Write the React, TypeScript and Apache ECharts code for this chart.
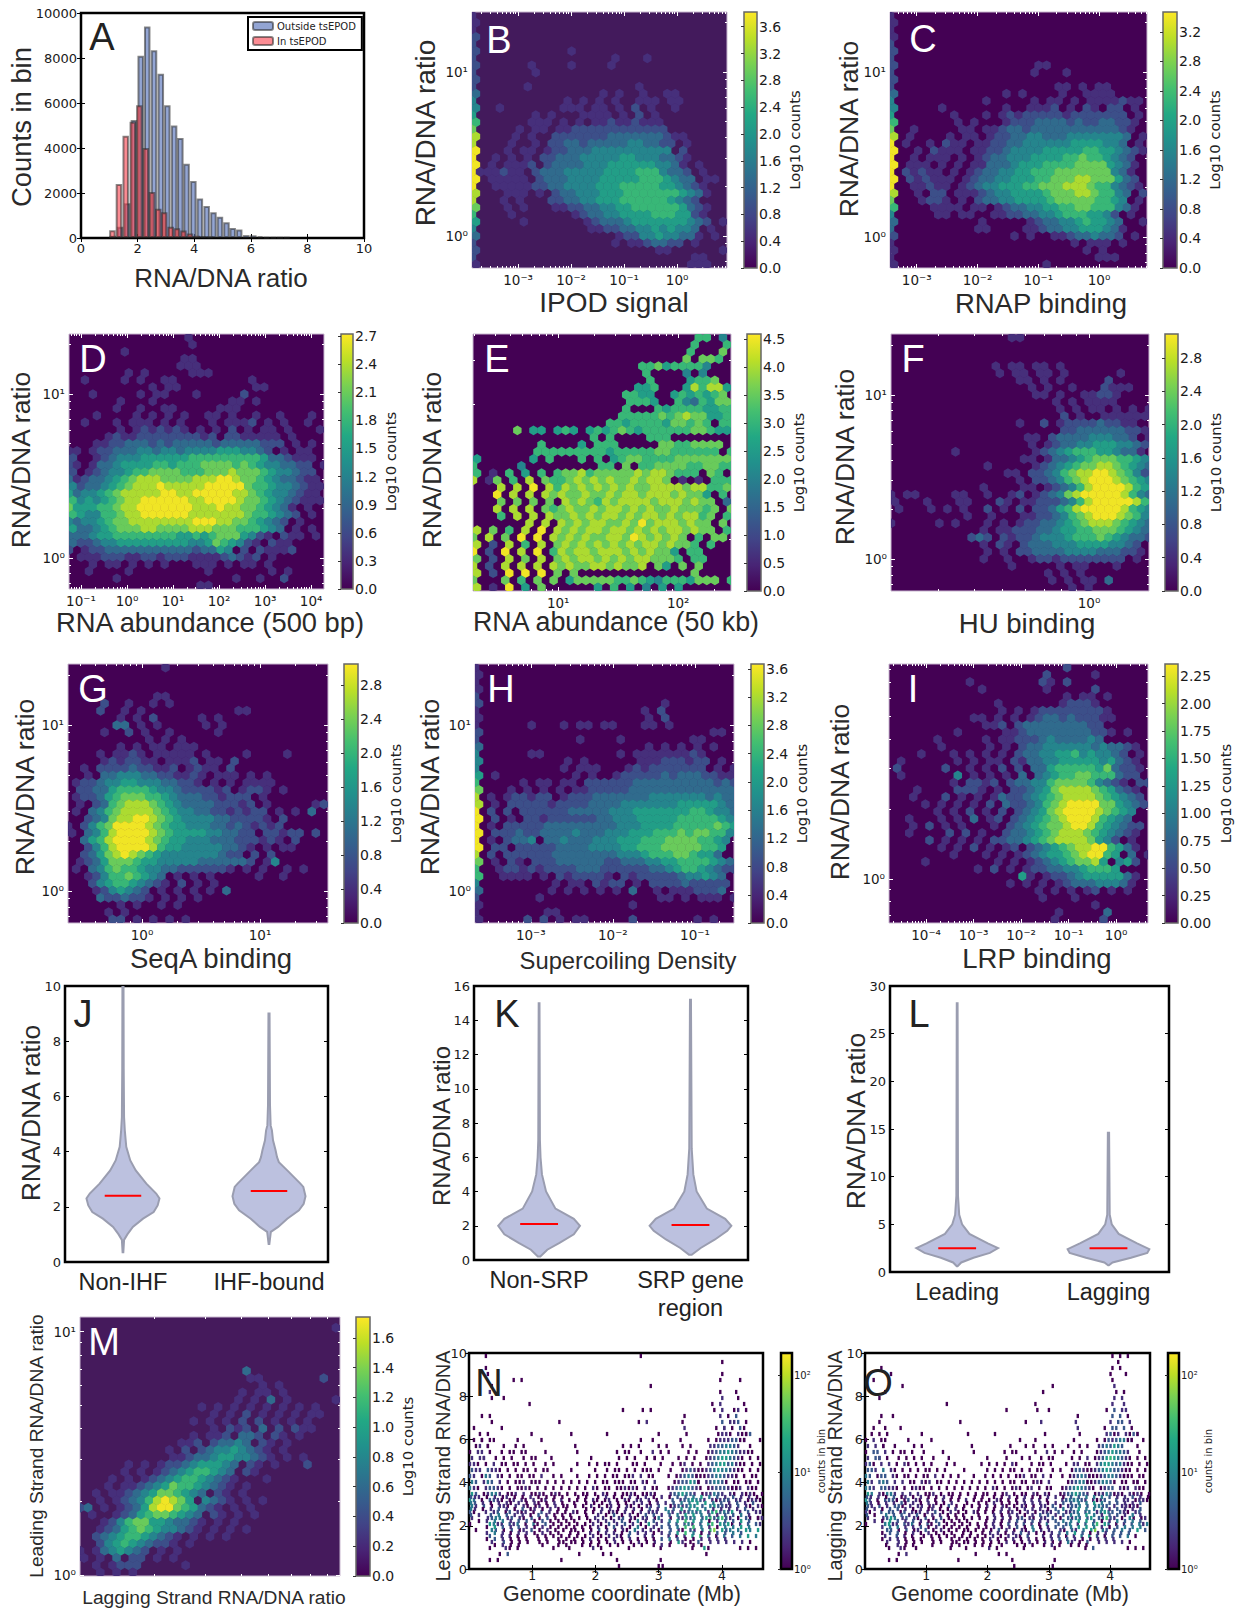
import React, { useEffect, useRef } from "react";
import * as echarts from "echarts";

const DV = "DejaVu Sans";
const LS = "Liberation Sans";

// ---------- A: histogram (bin centre, counts in bin) ----------
const outsideBins = [1.12, 1.38, 1.63, 1.87, 2.11, 2.34, 2.58, 2.82, 3.05, 3.29, 3.51, 3.73, 3.97, 4.2, 4.44, 4.68, 4.91, 5.14, 5.36, 5.59, 5.84, 6.09, 6.33, 6.56, 6.8, 7.03, 7.27];
const outsideCounts = [100, 500, 1550, 5240, 8100, 9400, 8350, 7300, 5900, 5000, 4450, 3300, 2530, 1760, 1420, 1150, 950, 700, 450, 380, 130, 120, 70, 30, 25, 20, 15];
const insideBins = [1.11, 1.34, 1.58, 1.83, 2.06, 2.29, 2.51, 2.73, 2.94, 3.17, 3.39, 3.62, 3.85, 4.09, 4.32, 4.56];
const insideCounts = [350, 2400, 4550, 5170, 5900, 4000, 2050, 1300, 1150, 500, 430, 330, 200, 100, 80, 60];

// ---------- Hexbin panels: each digit is a colour level (1 low .. 9 high) ----------
const rowsB = ["1","1","1","2","2","2...........1","2.................1...1","2......1....1....1","2.......1","2","2......1.............1","3...............1.1..1..11","4...........1.1.1.1..111.11","4..1.......111.11.1.2.1..1","5.......1.1...1111.1.2.1","6......111.1.1.112112111","7.....1.11.11222222222222","8....1.1..22222223333333211","8....1..1.2233233333443322.1","9...1.11.1223334444444444.2","9..1.1.1.2233344444554443321","9.1.1112.233334445555554431.1","9111211.23334444455556664332.1","9.11111.23334444555556665433.11","9..111112233444455566666554321","8...111.1.23344455566666665431","8...1.1...2233445556666665432","7...1.1...11223344556666665321","6....1.......12334455556665521","5.....1.......1233345555555432.1","4..............11223344545443.1","3.................12244544331.1","2.................1.1123322.1","2......................11......1","2...........................11","1..........................111"];
const rowsC = ["1","1","1","1","2","2","2","2.................11","2.................1...1","2","2....................11.1.11","3.............1.1....1..1111","4...........1.....1.11.1.1111211","4.....1.......1..1112.1.21.22.1","5.......1...1.1212222212222222.1","6.......1.1...12223333232233221","7..1.....11.1123323333333333321","8.1....1.11.122334433344444443.1","9.1..1.211.1122334444445555443.1","9..1.2111.1122344445555566554321","9..1.111.1.12334445555667665432","9.111.1.1.113334555666677775431","9.21211.1.123344556667777777431","9.212111.1233445556677788777532","9..11211.12344555667778887664321","8..1.22.1112344555567778876643.2","7...1221.1.2334455556777776654.1","6....1111.11.123344556677666431","4.....11.11..1122334456665542.1","3..........1.....123344565543..1","3..........11....1123344555431","2..............1.1..112334332.1","1......................1.111.1","1.......................1.1.....1","1.........................111...1","1..................1"];
const rowsD = ["...............1","...............1",".......1","..............11","..............111",".......1.1.....111","..1....1.1..11.........1","..........1.11.........11","...1.....1.11...1.....2","......1...1.........11.1","......1..1..11.....111","...1....1.1.1.1..11.1..1..1...1","..1...1.111.1.1...1.1112.1.1..1","......1.1212121.1.1.2.1.11.1...1",".....12112222222212.2211111.1....","...112233323233333233333222.1.1","11.12233344344344445554432.1.11","2..1234445555556666666665332111","21.1334555566566677776765443322.1","2.12344566777766677787776544322.1","31233456788877778889987765433211","42334567888988888999997665443211","53445678888899889999988765443211","64545678899999988999987765432111","75556678899999998889887765431.1.","65446678899999988888887665432.1.","4344567788888888999887765432.1..","533456777887777888777666543.1.1","33345566666666556567775421.211.1","322344555555555445765421.211","2.1223333333333323354.2.21112",".11122211221222111123212.1","...1.11.1.1.1...111.1.11.1","..1....1.........1.......1.1","......1..............1..1..2","................11"];
const rowsE = ["............................66.4","...........................6...6","...........................6...7","..........................7.776",".....................667566664",".....................6....4.4","......................6....5667","....................556...586885","...................6655..5656567","...................6665..64365774","...................6...6566665566","..................6666676787755666",".................6656666577676.66",".....7.55.565.5656765666666776557","...............6.6....666........7.6","........6....5.666.....77667777.6.64","........66666666656666677666666.664","5......5.6...6.6.5677666677777776.5","6.....4.........66.7.667777667766","6.1.6.5.6.677867777787887666.76","8.17.6.8.7667878787787887.1.1.666","...8.8.9.8687878787877888878866777","...9.8.8.878778778788788878775.6","...7.7.7.7.8787687888878887877.31.6","...8.8.8.7678778788787877877767.7","...6.8.8.877878788787887878867.6",".......8.8.8787887787978887877.7","8.7.6.8.9.87878878878787887877.66","7.8.7.9.9.87878778879878787.6.77","8.2.8.6.8.787878787878878776.6","9.2.9.8.9.6878878887878775.66","7.2.8.7.8.7878878787887776.66","8.2.8.8.8.878778878778.75.7.7","8.2.9.9.9.7.7..............7....7.67","7...7.6.7.7.5777776676546665777.6","8.1.9.5.7......5.6.5.4.5.5"];
const rowsF = ["...............11","","","",".............1.11.11.1",".............1.11.11.1......1","................11.1.1.....2",".................1.1..1...2111","..................11.1..11221","....................1.1.1111",".....................1.1.11.1.1.1",".....................2.1..111111","................1..2.1222232211",".....................223333332211",".................11.23333444332.1",".................1.1233445554432.1","........1.........12345666554331.1","................11.133456777665431","............1.....12345677887654322","..............11.223467889987642.1","................1.2234678999876543","...........1....11.12346899998654","1.11....11..1..12.1234789999986432","1...1...11...21.11222346899999864",".1...1.1.1..2.1.2.223568999998654",".........1..1...112234678999876434","1.....1.1...1.1.12233456788876543","...........1.112223345566777654323","..........232.2122344456667654332","...........1.21.233344455554432.2","............1.1.2233334444333221","...........1..1..122122222222.1","...............1.....1.11...1","...................1.1.1","....................1.1.11.3","......................1.1"];
const rowsG = ["............1","","","","...........11","....2..1..1.1","....2..1.1...........11","......1.1.2.....1.1","......33.1.1.....1.1","....1..2.1..1.....1","..........1.1.1","......1.1.11.111","....1.1121.11111.1....1....1","....1212211.1112.11.2","..1.2222322112.1211.2","..1.3344433221121.111.1.1",".1223445544433221.1.1.1111",".2233566665443222212.1221.1......1",".1223567776654333221222.1",".1.23678887654333322212.1.....121.1",".1.3467888876544332212122.1.1.3","..23478899876544443322221.2","1.2467999987655444332321212","1.346899998765555443322.22122.2","..3568999987655444333222121.2","..246899998655444443321.1.11","..23578987654444444322.2.2",".1235777655444443333332.14",".1.346766544332222221.1.1..1.1","..1246676543.1.1.1.....1..1","...2456654321.2.1.1","...1245432.1.1.1.1.3","....3223221.1.1.1","......1.1..1.1",".....1.1",".....22.1.1.1.1"];
const rowsH = ["1","1","1","1","2","2......................1","1....................1.2","1....................1.2","1......1...1.11.11...11.1","2............................11","2............1....1........11","3....................1.1.1.1.1","4......11.........1.111111121","4..........1.1......111222122.1","4..........1.111...1212222222.1.1","5.1.........1.1..122222323332211.1","6.....1.11.11.2222223333333333232","7...1.1.1.1.112222233333333333332","8.1.122122.1222333333344444443433","8.1.22222122223333444444455555432","9.2.2.222222333334445555555665443","9.2.1.22122222233444555556666654","9.1.222223333333334445555666667653","9.2223223333433344455566676776643","9.1.2334.33433344455566677776654","9.22.22222333344445566677777665","8.2.222222333333334445666776553","7.1.21.2223333332233344556666543","6..122121222233322222233456654322","6..1111.1.2122221.2122222344543.2","4.........1.11.2122.1.2222322222.1","3........1.1.1.1.1.3..1.1112223.3","2.......1..............11.1.111.11","1..................1","1........11","1.....2.2.1.11.....2.......1.1"];
const rowsI = ["......................2","...................2.....1","..........1........21.2","...........1.......1.....2","......................1.11.1",".............1.......12221","..............1.1.1222222221","..........11.1.1.12332322211","............112.23333333322","........1.....11233333333221.1","......1.....1.1122234333343","......1.....1.1.233444444343321","....1...1.1.1.1.23344556454432.1",".1......1.1.11.2133445555545321.1",".2.....2..1.1.2.2.33566666573221",".1......4.1.1.1.3.3456677666322","........1.2212.233446777764321.22","...1....2221.1.2234578888765321.2","...1...2.1.1.1322345678888765432","....1.1.1.1.2.3223467899997754321","......1.1.2.1.2.234578999987654","..1...1.1.3.12.234567899986543","...1.2.1.1...1.23456778998654322","..1....2.2.1..23345678887654321",".....2.1.1.1.2233456788887542.1","......1.1.2.1.12.23456788996531.1","........1...1.1.1234556789965.3.1","....1........1.1.1234567785.452","...........1.2.1.122334456665","................51.122345555531","...............1.1.1.1233344431","..................1.1.1.12.1.1","...................1...1",".........................1",".....................1.....3","....................1.....2"];
const rowsM = ["","...............................1","","","","","","....................3",".....................11.......2","......................1.1","....................1.11.1","...................1.1.3.1.....1","...............1.1.1.1.1.1.1.1","................1.1.2.1.1.1.11","..............1.1.1.2.2.1.1.1","................1.212.3.2.211","..............1.112.332.21.1","............112.23343.21.1","...........1.2.234454321.1","...........1123345544321.1.1","......1.1.1223455543.21.1...2",".....1.1.1234566543.21","....1.1.123456654321...1","...1.11234576654321.1","..1.112345776543.21.1","..1.1234689875.4321.1.1","23.1.1235899765321.1.1",".1..12356776543.21.1.1","...1246775543321.1.1","..1235676544321.1.1.1","..23456654321.1.1.1","..2456543221.1","1.1345432.1.1","1.1.3.22.1.1","..1.1222.....1","..1.1.1"];

// ---------- N, O: genome scatter. "col:levels" per row; levels 1..7 = log-spaced counts ----------
const rowsN = ["4:1 43:1","63:1","4:1","4:1 63:1","11:1 13:1 63:1 68:1","5:1 45:1","5:2 63:1 67:1","5:1 8:1 63:2 67:1","15:1 61:1 63:2 69:1","38:1 43:1 45:1 61:1 63:2 66:1 67:2 69:1","3:1 5:1 54:1 63:2 65:1 67:3","5:1 22:1 42:1 44:2 53:1 63:3 65:2 66:2 67:3 69:1","1:1 8:1 54:2 62:1.2 64:2 66:1.3 69:1","2:1 4:1 15:1 25:1 34:1 47:1 54:1 62:1221.2123 69:1","1:1.1 3:1.1 6:1 12:1 18:1 43:1 46:1 53:1 60:1.12223312 69:1 73:1","1:1 2:2.1 4:1 8:1 11:1 13:1 26:1 38:1 40:1 42:1 47:1.1 53:1 55:1 60:22334432 70:1","0:1.2 3:2.1 8:1.1 11:1.1 14:1 19:1 27:1 37:1.1 40:1 43:1 46:2.1 50:1 55:1.1 60:12344543221 71:1","0:2.21 3:2 6:1 8:1.1 13:1.1 16:1 20:1 30:1 37:1 39:1 41:1 44:1.1 46:1.1 52:1 54:1.1 59:1234554321 70:1.1",
"0:221.1.2.11.11.1.1..1.1.....1..1.1.11.1...11.1...1 51:1.1 54:2.1 58:1.234553421 69:1.1 73:1",
"0:322.3221.1.1.11.1.11.....1.....1..1.11.1.1.111.1 50:1 53:12321 58:1234544321 68:1.1 72:1",
"0:32.143.21.1.11.11.2..1.1...1..1.1.1.11.112.2.11. 50:1 52:1234321 57:1.123443221 67:1.1 71:11",
"0:43.243.2.1.112.111.1.1.1.1.1.1.1.11.111.11.21.2. 51:1233541 57:1.234431 66:11.11 70:1.1",
"0:421.23321.1.1121.1.1.1.1.1.1.1.21.11.112121.2.11 50:123454321.12333221 66:112.211.1",
"0:53.12442.112.2.1121.121.1.1.11.1.21.1.1121.1121. 50:2345 54:432.122432 65:21.2121.12",
"0:54.1.3321.12.21.2.12.1.2.1.1.1.21.12.1.21.22.2.1 50:.3.2345 56:5432.21231 65:3.22.1221",
"0:42.3.1.221.2.21.12.1.2.11.1.1.2.1.12.1.21.1.22.3 50:1232354.3.453322.3 69:21.2121",
"0:31..2.23.13.212.1.3.2.1.1.21.1.1.2.121.2.1.2.222 50:42.223434.2563435.2.3.221.23",
"0:2...2344.23.21.3.1.3.1.1.1.1.1.2.2.1.23.21.22.14 50:1.32434.35635632.1.31.12 72:12",
"0:1....5422.324.1.41.3.1.1.1.1.1.2.1.3.2.3.2.1.5.2 50:3.3.342.3.56.5451.2.3.324",
"0:.1...43.1.3.12.3.1.2.1.1.11.1.1.3.2.1.21.4.2.2.1 50:3.21.32.4.67.534.4.54.5.4",
"0:.....3..2.2.1.1..1.1.1.1.1.1.1.2.1.2.21.3...2.2. 50:2.1.2.5.6.4.1.4.3.4.5.4",
"0:.....2..3.1.1.1..1.1..11.11.1.1.1.1.2.1.1.2.1.2. 50:1.52.1.3..2.2.2.2.2.1",
"5:1 9:2 10:1 12:1 21:1 25:1 31:2 33:1 40:1 48:1 56:1 59:5 60:1 68:1 70:1 72:1","7:1 9:3 27:1 33:1.1 59:1","5:1 7:1 23:1 37:1 48:1","37:1 47:1 48:1"];
const bandN = [
"0:322.1.2.12.1.1.2.1.1.1.1...1.1..1.2.1.1.2.1.2.1.2.1.3.3.4.5.4.3.2.3.2.2.1",
"0:43.2.1.2.21.2.1.21.1.2.1..1..1.1.1.2.1.1.2.2.1.2.2.3.4.4.5.5.4.3.2.3.2.3.",
"0:42.1.2.3.2.1.3.12.1.2.1.1....1.1.2.2.1.2.2.1.3.2.4.3.5.4.5.4.2.2.2.2.3.2",
"0:3.2..3.4.3.2.2.1.3.2.1.1.1...1..2.1.3.1.2.1.3.3.2.3.4.5.5.4.3.2.3.3.4.2",
"0:..1.2.4.4.2.3.3.1.3.1.1.1.1...1.2.2.2.3.1.4.2.3.2.4.5.6.5.4.1.2.3.3.5.3",
"0:....1.5.3.2.3.2.1.2.1.1.1.1.1.1.2.1.3.2.1.4.1.2.3.3.4.6.6.4.2.1.4.4.5.4.",
"0:....2.4.2.1.2.2.1.2.1.1..1.1..2.1.2.2.1.3.2.2.1.2.3.5.6.4.1.2.3.3.4.3",
"0:....1.3.2.1.1.1..1.1..1.1.1.1.2.1.1.2.1.2.1.1.1.3.4.3.1.1.2.2.2.2",
"0:......1.2.1.1.....1...1.1...1.1.1..1.1...1.1..1.2.1...1.1.1",
];
const rowsO = ["64:1 66:1 68:1","65:1","4:1 64:1 66:1","6:1 63:1 67:1","2:1 64:1","9:1 48:1 64:2","5:1 46:1 65:1 67:1","3:1 64:2 66:2","21:1 44:1 64:2 67:2","36:1 44:1 47:1 62:1 64:3 66:2 67:2","4:1 7:1 55:1 64:3 66:3 68:1","3:1 24:1 41:1 45:2 54:2 63:2.3 66:3 68:2","2:1 5:1 9:1 55:2 62:1.3 65:3.3 69:1","1:1 3:1.1 14:1 26:1 33:1 46:1 55:1 62:2312.2133 70:1","0:1 2:2.1 5:1 11:1 17:1 40:1 44:1 54:1 60:1.13234413 69:1 72:1","0:2 2:2.1 4:1 7:1 12:1 14:1 27:1 37:1 41:1 43:1 46:1.1 52:1 55:1.1 60:2343543 70:1","0:1.3 3:3.2 7:1.1 10:1.1 15:1 20:1 28:1 36:1.1 39:1 44:1 47:2.1 51:1 54:1.1 60:123454432 71:1","0:2.31 3:3 5:1 8:1.1 12:1.1 17:1 21:1 31:1 36:1 40:1 42:1 45:1.1 48:1 53:1 55:1.2 59:1235654321 70:1.1",
"0:231.2.2.1.21.1.1.1...1.1......1.1.1.1.21...1.11.1 52:1.2 55:2.1 58:1.245543421 69:1.1 73:1",
"0:332.4.21.1.1.1.11.1.1....1.....1.1.1.11.1.1.11..1 50:1 53:13321 58:1234543321 68:1.1 72:1",
"0:43.133.21.11.1.11.2.1.1.1...1..1.1.1.1.112.11.2.1 51:1 53:1234321 58:1.123443221 67:1.1 71:11",
"0:42.343.2.2.11.212.11.1.1.1.1.1.1.1.1.11.11.121.2. 52:1234431 57:1.234431 66:11.11 70:1.1",
"0:432.33221.1.1211.1.1.1.1.1.1.1.1.21.1.121.12.1.11 51:123454321.1233 66:212.211.1",
"0:54.21442.2.2.2.112.1.11.1.1.1.11.1.12.1.11.21.21. 50:12345 55:432.122431 65:21.2121.12",
"0:53.1.3331.13.21.2.1.2.1.1.2.1.1.1.21.1.1.2.2.2.1. 50:.2344 54:4432.2123 65:3.22.1221",
"0:32.3.2.331.2.22.12.1.3.1.1.1.1.2.1.21.1.21.1.22.3 50:1.2334.3.4433.2 66:21 67:2121",
"0:21..3.33.13.212.2.3.1.2.1.1.21.1.1.2.12.1.2.1.222 50:3.2234.34.2454 63:.3.321.23",
"0:2...2354.23.21.3.1.3.1.1.1.1.1.1.2.2.1.23.21.22.3 50:1.3243.35.34632.1.41.12",
"0:1....4522.324.1.31.3.1.1.1.1.1.1.2.1.3.2.3.2.1.4. 50:3.34.2.3.46.54.1.2.3.424",
"0:.....33.1.3.12.3.1.2.1.1.11.1.1.1.3.2.1.21.4.2.2. 50:21.32.4.57.43.3.4.3.5.3",
"0:.....2..3.2.1..1.1.1.1.1.1.1.1.1.2.1.2.21.3...2.2 50:2.1.2.4.5.3.1.3.3.4.1",
"0:.....2..2.1.1.1..1.1..11.11.1.1.1.1.2.1.1.2.1.2.1 50:1.42.1.3..2.2.2.2.1",
"6:1 9:2 10:1 13:1 22:1 26:1 32:2 34:1 41:1 49:1 57:1 59:3 68:1 70:1 72:1","8:1 10:2 28:1 34:1.1","6:1 8:1 24:1 38:1 49:1","38:1 48:1"];
const bandO = [
"0:32.2.1.3.12.1.2.1.1.2.1.1...1.1..1.1.2.1.2.1.1.2.2.1.3.3.4.4.4.3.2.2.3.2.1",
"0:42.1.2.2.31.2.1.2.1.1.2...1..1.1.2.1.1.1.2.2.2.1.2.3.3.4.4.5.4.3.3.2.2.3.",
"0:3.2.1.3.3.2.1.2.12.1.1.2.1...1.1.1.2.2.1.2.2.2.1.3.4.3.5.4.4.4.2.3.2.2.3",
"0:3.1..4.3.3.2.3.1.2.2.1.1.1...1...2.1.2.2.1.2.3.3.2.3.4.4.5.4.2.3.3.2.4.2",
"0:..2.1.5.3.2.3.2.1.3.1.1.1.1....1.2.1.2.3.2.3.2.2.3.4.4.5.5.3.1.2.4.3.4.3",
"0:....2.4.4.2.2.3.1.2.1.1.1.1..1.1.2.1.2.3.1.4.1.2.3.3.4.5.5.4.2.1.3.4.4.4.",
"0:....1.3.3.1.2.1.2.1.1.1..1.1..1.2.2.1.2.3.2.1.1.2.3.4.5.3.1.2.2.3.3.3",
"0:....1.2.2.1.1.1..1.1..1.1.1.1.1.2.1.1.2.1.2.1.1.2.3.3.2.1.1.2.2.2",
"0:.....1..2.1.1....1....1.1...1.1.1..1...1.1.1..1.2.1..1.1.1",
];

// ---------- J, K, L: violin outlines (ratio, relative width) ----------
const jCategories = ["Non-IHF", "IHF-bound"];
const jMeans = [2.4, 2.57];
const jNonY = [0.35, 0.8, 1.0, 1.27, 1.57, 1.81, 2.05, 2.3, 2.48, 2.84, 3.32, 3.68, 4.17, 4.77, 5.25, 7, 10];
const jNonW = [0.01, 0.03, 0.12, 0.27, 0.55, 0.84, 0.95, 1, 0.91, 0.64, 0.35, 0.2, 0.09, 0.05, 0.03, 0.02, 0.015];
const jIhfY = [0.65, 1.09, 1.27, 1.57, 1.87, 2.11, 2.38, 2.72, 2.84, 3.32, 3.62, 3.8, 4.05, 4.41, 4.77, 4.95, 5.7, 9];
const jIhfW = [0.01, 0.05, 0.25, 0.5, 0.82, 0.95, 1, 0.94, 0.86, 0.5, 0.27, 0.22, 0.18, 0.11, 0.08, 0.045, 0.027, 0.015];
const kCategories = ["Non-SRP", "SRP gene\nregion"];
const kMeans = [2.1, 2.05];
const kNonY = [0.2, 0.6, 1, 1.5, 2, 2.4, 3, 4, 5, 6, 7, 15];
const kNonW = [0.03, 0.2, 0.5, 0.85, 1, 0.85, 0.4, 0.17, 0.07, 0.035, 0.02, 0.01];
const kSrpY = [0.3, 0.7, 1.2, 1.7, 2, 2.4, 3, 4, 5, 6.5, 15.2];
const kSrpW = [0.03, 0.25, 0.6, 0.9, 1, 0.85, 0.4, 0.15, 0.07, 0.03, 0.012];
const lCategories = ["Leading", "Lagging"];
const lMeans = [2.5, 2.5];
const lLeadY = [0.6, 1, 1.5, 2, 2.5, 3, 4, 5, 6, 8, 28.2];
const lLeadW = [0.01, 0.1, 0.4, 0.8, 1, 0.75, 0.3, 0.12, 0.05, 0.02, 0.01];
const lLagY = [0.7, 1, 1.5, 2, 2.4, 3, 4, 5, 6, 14.6];
const lLagW = [0.01, 0.1, 0.55, 0.95, 1, 0.7, 0.25, 0.08, 0.03, 0.015];

const VIRIDIS = ["#440154","#482475","#414487","#355f8d","#2a788e","#21918c","#22a884","#44bf70","#7ad151","#bddf26","#fde725"];
const hx = (s: string) => [1, 3, 5].map((i) => parseInt(s.slice(i, i + 2), 16));
function viridis(f: number) {
  const t = Math.max(0, Math.min(1, f || 0)) * 10;
  const i = Math.min(9, Math.floor(t));
  const a = hx(VIRIDIS[i]), b = hx(VIRIDIS[i + 1]);
  const c = a.map((v, k) => Math.round(v + (b[k] - v) * (t - i)));
  return `rgb(${c[0]},${c[1]},${c[2]})`;
}
const viridisStops = VIRIDIS.map((color, i) => ({ offset: i / 10, color }));
const viridisFill = { type: "linear", x: 0, y: 1, x2: 0, y2: 0, colorStops: viridisStops };

const SUP: Record<string, string> = { "-": "⁻", "0": "⁰", "1": "¹", "2": "²", "3": "³", "4": "⁴" };
const powLabel = (v: number) => "10" + String(Math.round(Math.log10(v))).split("").map((c) => SUP[c]).join("");

function logTicks(lmin: number, lmax: number) {
  const major: number[] = [], minor: number[] = [];
  for (let e = Math.floor(lmin); e <= Math.ceil(lmax); e++) {
    for (let m = 1; m < 10; m++) {
      const l = e + Math.log10(m);
      if (l < lmin || l > lmax) continue;
      (m === 1 ? major : minor).push(Math.pow(10, l));
    }
  }
  return { major, minor };
}

const hexPanels = [
  { letter: "B", lx: 499, ly: 40, box: [472, 12, 727, 268], xr: [-3.87, 0.94], yr: [-0.195, 1.366], rows: rowsB, bg: "#431a5c", cb: [744, 757], cbMax: 3.82, step: 0.4, dec: 1, xt: "IPOD signal", yt: "RNA/DNA ratio", xs: 28, ys: 28, xp: [614, 302], yp: [425, 133] },
  { letter: "C", lx: 923, ly: 39, box: [890, 12, 1147, 268], xr: [-3.44, 0.79], yr: [-0.188, 1.364], rows: rowsC, bg: "#440154", cb: [1163, 1177], cbMax: 3.47, step: 0.4, dec: 1, xt: "RNAP binding", yt: "RNA/DNA ratio", xs: 27.5, ys: 26.5, xp: [1041, 303], yp: [849, 129] },
  { letter: "D", lx: 93, ly: 359, box: [69, 334, 324, 589], xr: [-1.26, 4.28], yr: [-0.19, 1.365], rows: rowsD, bg: "#440154", cb: [341, 353], cbMax: 2.72, step: 0.3, dec: 1, xt: "RNA abundance (500 bp)", yt: "RNA/DNA ratio", xs: 27.3, ys: 26.5, xp: [210, 622], yp: [21, 460] },
  { letter: "E", lx: 497, ly: 359, box: [473, 334, 731, 591], xr: [0.29, 2.44], yr: [0.187, 0.757], rows: rowsE, bg: "#440154", cb: [747, 761], cbMax: 4.59, step: 0.5, dec: 1, xt: "RNA abundance (50 kb)", yt: "RNA/DNA ratio", xs: 26.8, ys: 26.5, xp: [616, 622], yp: [432, 460] },
  { letter: "F", lx: 913, ly: 359, box: [891, 334, 1149, 591], xr: [-0.6875, 0.208], yr: [-0.195, 1.37], rows: rowsF, bg: "#440154", cb: [1165, 1178], cbMax: 3.09, step: 0.4, dec: 1, xt: "HU binding", yt: "RNA/DNA ratio", xs: 27.6, ys: 26.5, xp: [1027, 623], yp: [845, 457] },
  { letter: "G", lx: 93, ly: 689, box: [68, 664, 328, 923], xr: [-0.627, 1.576], yr: [-0.193, 1.367], rows: rowsG, bg: "#440154", cb: [344, 358], cbMax: 3.05, step: 0.4, dec: 1, xt: "SeqA binding", yt: "RNA/DNA ratio", xs: 27.5, ys: 26.5, xp: [211, 958], yp: [25, 787] },
  { letter: "H", lx: 501, ly: 689, box: [475, 664, 734, 923], xr: [-3.68, -0.524], yr: [-0.193, 1.367], rows: rowsH, bg: "#440154", cb: [751, 764], cbMax: 3.67, step: 0.4, dec: 1, xt: "Supercoiling Density", yt: "RNA/DNA ratio", xs: 23.8, ys: 26.5, xp: [628, 960], yp: [430, 787] },
  { letter: "I", lx: 913, ly: 689, box: [889, 664, 1148, 923], xr: [-4.78, 0.67], yr: [-0.189, 0.924], rows: rowsI, bg: "#440154", cb: [1165, 1178], cbMax: 2.36, step: 0.25, dec: 2, xt: "LRP binding", yt: "RNA/DNA ratio", xs: 27.5, ys: 26.5, xp: [1037, 958], yp: [840, 792] },
  { letter: "M", lx: 104, ly: 1342, box: [80, 1317, 340, 1576], xr: [0.042, 0.947], yr: [-0.004, 1.06], rows: rowsM, bg: "#451a5c", cb: [356, 370], cbMax: 1.74, step: 0.2, dec: 1, xt: "Lagging Strand RNA/DNA ratio", yt: "Leading Strand RNA/DNA ratio", xs: 19.2, ys: 19.2, xp: [214, 1597], yp: [36, 1446] },
];

const violinPanels = [
  { letter: "J", lx: 83, ly: 1014, box: [65, 986, 328, 1262], xr: [0.603, 2.404], yMax: 10, step: 2, cats: jCategories, means: jMeans, prof: [[jNonY, jNonW], [jIhfY, jIhfW]], half: 0.25, yp: [31, 1113] },
  { letter: "K", lx: 507, ly: 1014, box: [474, 986, 748, 1260], xr: [0.57, 2.38], yMax: 16, step: 2, cats: kCategories, means: kMeans, prof: [[kNonY, kNonW], [kSrpY, kSrpW]], half: 0.27, yp: [441, 1126] },
  { letter: "L", lx: 919, ly: 1014, box: [890, 986, 1169, 1272], xr: [0.556, 2.4], yMax: 30, step: 5, cats: lCategories, means: lMeans, prof: [[lLeadY, lLeadW], [lLagY, lLagW]], half: 0.27, yp: [856, 1121] },
];

const scatterPanels = [
  { letter: "N", lx: 489, ly: 1383, box: [469, 1353, 763, 1569], rows: rowsN, band: bandN, cb: [781, 792], yt: "Leading Strand RNA/DNA", xp: [622, 1594], yp: [443, 1466] },
  { letter: "O", lx: 878, ly: 1383, box: [865, 1353, 1150, 1569], rows: rowsO, band: bandO, cb: [1168, 1179], yt: "Lagging Strand RNA/DNA", xp: [1010, 1594], yp: [835, 1466] },
];

function buildOption() {
  const grid: any[] = [], xAxis: any[] = [], yAxis: any[] = [], series: any[] = [], graphic: any[] = [];

  const addGrid = (b: number[], borderColor: string, borderWidth: number, backgroundColor: any) => {
    grid.push({ show: true, left: b[0], top: b[1], width: b[2] - b[0], height: b[3] - b[1], borderColor, borderWidth, backgroundColor });
    return grid.length - 1;
  };
  const mkAxis = (g: number, type: string, min: number, max: number, position: string, ticks: number[], len: number, color: string) => ({
    type, gridIndex: g, min, max, position, silent: true,
    axisLine: { show: false }, splitLine: { show: false }, axisLabel: { show: false },
    axisTick: { show: ticks.length > 0, inside: true, length: len, customValues: ticks, lineStyle: { color, width: 1 } },
  });
  const labelled = (ax: any, values: number[], formatter: any, size: number, margin: number, color = "#1a1a1a", lineHeight?: number, font = DV) => {
    ax.axisLabel = { show: values.length > 0, customValues: values, formatter, fontSize: size, fontFamily: font, color, margin, hideOverlap: false, lineHeight };
    return ax;
  };
  const named = (ax: any, name: string, size: number, gap: number, rotate?: number, font = LS) => {
    ax.name = name; ax.nameLocation = "middle"; ax.nameGap = gap; ax.nameRotate = rotate;
    ax.nameTextStyle = { fontFamily: font, fontSize: size, color: "#222" };
    return ax;
  };
  const title = (text: string, p: number[], size: number, vertical = false) =>
    graphic.push({ type: "text", x: p[0], y: p[1], rotation: vertical ? Math.PI / 2 : 0, silent: true, z: 40,
      style: { text, fill: "#2a2a2a", fontFamily: LS, fontSize: size, textAlign: "center", textVerticalAlign: "middle" } });
  const letter = (text: string, x: number, y: number, fill: string) =>
    graphic.push({ type: "text", x, y, z: 50, silent: true, style: { text, fill, fontFamily: LS, fontSize: 38, textAlign: "center", textVerticalAlign: "middle" } });
  const range = (step: number, max: number) => {
    const out: number[] = [];
    for (let i = 0; i * step <= max + 1e-9; i++) out.push(+(i * step).toFixed(6));
    return out;
  };

  // A
  {
    const g = addGrid([81, 13, 364, 238], "#000", 2.5, "#fff");
    const xv = range(2, 10), yv = range(2000, 10000);
    const xi = xAxis.length, yi = yAxis.length;
    xAxis.push(labelled(mkAxis(g, "value", 0, 10, "bottom", xv, 4, "#000"), xv, (v: number) => String(v), 13, 4));
    xAxis.push(mkAxis(g, "value", 0, 10, "top", xv, 4, "#000"));
    yAxis.push(labelled(mkAxis(g, "value", 0, 10000, "left", yv, 4, "#000"), yv, (v: number) => String(v), 13, 4));
    yAxis.push(mkAxis(g, "value", 0, 10000, "right", yv, 4, "#000"));
    const bar = (name: string, xs: number[], ys: number[], fill: string) => ({
      type: "bar", name, xAxisIndex: xi, yAxisIndex: yi, barWidth: 6.5, barGap: "-100%", silent: true,
      itemStyle: { color: fill, borderColor: "rgba(40,40,40,0.55)", borderWidth: 2 },
      data: xs.map((x, i) => [x, ys[i]]),
    });
    series.push(bar("Outside tsEPOD", outsideBins, outsideCounts, "rgba(96,122,190,0.68)"));
    series.push(bar("In tsEPOD", insideBins, insideCounts, "rgba(248,70,80,0.62)"));
    letter("A", 102, 37, "#222");
    title("RNA/DNA ratio", [221, 278], 26);
    title("Counts in bin", [21, 127], 27.4, true);
  }

  // hexbin panels with colour bars
  for (const p of hexPanels) {
    const b = p.box;
    const g = addGrid(b, "#c9b8d0", 1, p.bg);
    const [x0, x1] = p.xr, [y0, y1] = p.yr;
    const xmin = Math.pow(10, x0), xmax = Math.pow(10, x1), ymin = Math.pow(10, y0), ymax = Math.pow(10, y1);
    const xt = logTicks(x0, x1), yt = logTicks(y0, y1);
    const xi = xAxis.length, yi = yAxis.length;
    xAxis.push(labelled(mkAxis(g, "log", xmin, xmax, "bottom", xt.major, 4, "#fff"), xt.major, powLabel, 13.5, 5));
    xAxis.push(mkAxis(g, "log", xmin, xmax, "bottom", xt.minor, 2, "#fff"));
    xAxis.push(mkAxis(g, "log", xmin, xmax, "top", xt.major, 4, "#fff"));
    xAxis.push(mkAxis(g, "log", xmin, xmax, "top", xt.minor, 2, "#fff"));
    yAxis.push(labelled(mkAxis(g, "log", ymin, ymax, "left", yt.major, 4, "#fff"), yt.major, powLabel, 13.5, 4));
    yAxis.push(mkAxis(g, "log", ymin, ymax, "left", yt.minor, 2, "#fff"));
    yAxis.push(mkAxis(g, "log", ymin, ymax, "right", yt.major, 4, "#fff"));
    yAxis.push(mkAxis(g, "log", ymin, ymax, "right", yt.minor, 2, "#fff"));
    const cols = 32, nr = p.rows.length;
    const cw = (x1 - x0) / cols, rh = (y1 - y0) / nr;
    const pts: number[][] = [];
    p.rows.forEach((row, r) => {
      row.split("").forEach((ch, c) => {
        const d = parseInt(ch, 10);
        if (isNaN(d)) return;
        const lx = x0 + (c + (r % 2 ? 0.5 : 0)) * cw;
        if (lx > x1) return;
        pts.push([Math.pow(10, lx), Math.pow(10, y1 - (r + 0.5) * rh), ((d / 9) * 0.95 + 0.03) * p.cbMax]);
      });
    });
    const hw = (b[2] - b[0]) / cols / 2 + 0.2, hh = ((b[3] - b[1]) / nr) * (2 / 3) + 0.2;
    series.push({
      type: "custom", xAxisIndex: xi, yAxisIndex: yi, data: pts, clip: true, silent: true,
      renderItem: (_: any, api: any) => {
        const [cx, cy] = api.coord([api.value(0), api.value(1)]);
        return {
          type: "polygon",
          shape: { points: [[cx, cy - hh], [cx + hw, cy - hh / 2], [cx + hw, cy + hh / 2], [cx, cy + hh], [cx - hw, cy + hh / 2], [cx - hw, cy - hh / 2]] },
          style: { fill: viridis(api.value(2) / p.cbMax) },
        };
      },
    });
    letter(p.letter, p.lx, p.ly, "#fff");
    title(p.xt, p.xp, p.xs);
    title(p.yt, p.yp, p.ys, true);

    const cg = addGrid([p.cb[0], b[1], p.cb[1], b[3]], "#666", 1.5, viridisFill);
    const cv = range(p.step, p.cbMax);
    xAxis.push({ type: "value", gridIndex: cg, show: false, min: 0, max: 1 });
    yAxis.push(named(labelled(mkAxis(cg, "value", 0, p.cbMax, "right", cv, 3, "#333"), cv, (v: number) => v.toFixed(p.dec), 14, 2), "Log10 counts", 14.8, p.dec === 2 ? 40 : 30, 90, DV));
  }

  // violins
  for (const p of violinPanels) {
    const g = addGrid(p.box, "#000", 2.5, "#fff");
    const yv = range(p.step, p.yMax);
    const xi = xAxis.length, yi = yAxis.length;
    xAxis.push(labelled(mkAxis(g, "value", p.xr[0], p.xr[1], "bottom", [], 0, "#000"), [1, 2], (v: number) => p.cats[v - 1], 23.5, 6, "#222", 28, LS));
    yAxis.push(labelled(mkAxis(g, "value", 0, p.yMax, "left", yv, 4, "#000"), yv, (v: number) => String(v), 13, 4));
    yAxis.push(mkAxis(g, "value", 0, p.yMax, "right", yv, 4, "#000"));
    series.push({
      type: "custom", xAxisIndex: xi, yAxisIndex: yi, silent: true, clip: true,
      data: p.means.map((m, i) => [i + 1, m]),
      renderItem: (_: any, api: any) => {
        const c = api.value(0), mean = api.value(1);
        const [ys, ws] = p.prof[c - 1];
        const left = ys.map((y, i) => api.coord([c - ws[i] * p.half, y]));
        const right = ys.map((y, i) => api.coord([c + ws[i] * p.half, y])).reverse();
        const a = api.coord([c - 0.125, mean]), e = api.coord([c + 0.125, mean]);
        return {
          type: "group",
          children: [
            { type: "polygon", shape: { points: left.concat(right) }, style: { fill: "#bcc1df", stroke: "#9a9db0", lineWidth: 2 } },
            { type: "line", shape: { x1: a[0], y1: a[1], x2: e[0], y2: e[1] }, style: { stroke: "#f00", lineWidth: 2 } },
          ],
        };
      },
    });
    letter(p.letter, p.lx, p.ly, "#222");
    title("RNA/DNA ratio", p.yp, p.letter === "K" ? 24 : 26.5, true);
  }

  // genome scatter panels
  const LEVEL_COUNT = [1, 1, 2, 4, 8, 16, 32, 64, 128, 170];
  for (const p of scatterPanels) {
    const b = p.box;
    const g = addGrid(b, "#000", 2.5, "#fff");
    const xv = [1, 2, 3, 4], yv = range(2, 10);
    const xi = xAxis.length, yi = yAxis.length;
    xAxis.push(labelled(mkAxis(g, "value", 0, 4.65, "bottom", xv, 4, "#000"), xv, (v: number) => String(v), 12.5, 0));
    xAxis.push(mkAxis(g, "value", 0, 4.65, "top", xv, 4, "#000"));
    yAxis.push(labelled(mkAxis(g, "value", 0, 10, "left", yv, 4, "#000"), yv, (v: number) => String(v), 13, 2));
    yAxis.push(mkAxis(g, "value", 0, 10, "right", yv, 4, "#000"));
    const cols = 74, rowCount = p.rows.length;
    const pts: number[][] = [];
    const addRow = (row: string, r: number, shift: number) => {
      row.split(" ").filter(Boolean).forEach((tok) => {
        const [cs, digits] = tok.split(":");
        digits.split("").forEach((ch, i) => {
          const d = parseInt(ch, 10);
          if (isNaN(d)) return;
          const c = +cs + i;
          if (c >= cols) return;
          pts.push([((c + shift) / cols) * 4.65, 10 - ((r + 0.5) / rowCount) * 10, LEVEL_COUNT[d]]);
        });
      });
    };
    p.rows.forEach((row, r) => addRow(row, r, r % 2 ? 0.75 : 0.25));
    p.band.forEach((row, i) => addRow(row, 23.5 + i, 0.5));
    series.push({
      type: "scatter", xAxisIndex: xi, yAxisIndex: yi, data: pts, symbol: "rect", symbolSize: [2.4, 4.2], clip: true, silent: true,
      itemStyle: { opacity: 1, color: (it: any) => viridis(Math.log10(it.value[2]) / 2.23) },
    });
    letter(p.letter, p.lx, p.ly, "#222");
    title("Genome coordinate (Mb)", p.xp, 21.4);
    title(p.yt, p.yp, 20, true);
    const cg = addGrid([p.cb[0], b[1], p.cb[1], b[3]], "#000", 2.5, viridisFill);
    xAxis.push({ type: "value", gridIndex: cg, show: false, min: 0, max: 1 });
    const cv = [1, 10, 100];
    yAxis.push(named(labelled(mkAxis(cg, "log", 1, 170, "right", cv, 3, "#222"), cv, powLabel, 10, 2), "counts in bin", 10, 24, 90, DV));
  }

  return {
    animation: false,
    backgroundColor: "#fff",
    tooltip: { show: false },
    legend: {
      show: true, left: 248, top: 17, orient: "vertical", itemWidth: 20, itemHeight: 8, itemGap: 5, selectedMode: false,
      borderColor: "#000", borderWidth: 2, backgroundColor: "#fff", padding: [4, 6, 4, 4], z: 20,
      textStyle: { fontFamily: DV, fontSize: 10, color: "#222", padding: [0, 0, 0, -1] },
      data: ["Outside tsEPOD", "In tsEPOD"],
    },
    grid, xAxis, yAxis, series, graphic,
  };
}

export default function App() {
  const ref = useRef<HTMLDivElement>(null);
  useEffect(() => {
    const chart = echarts.init(ref.current as HTMLDivElement, undefined, { renderer: "svg" });
    chart.setOption(buildOption() as any);
    return () => chart.dispose();
  }, []);
  return <div ref={ref} style={{ position: "absolute", left: 0, top: 0, width: 1244, height: 1610 }} />;
}
